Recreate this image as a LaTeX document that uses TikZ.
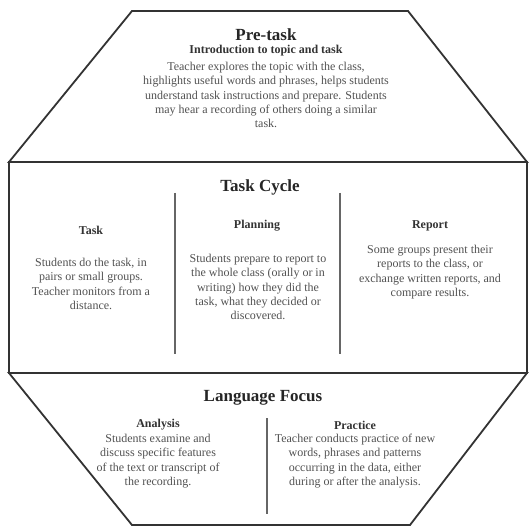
\documentclass[tikz,border=0pt]{standalone}
\usepackage{fontspec}
\setmainfont{Liberation Serif}
\begin{document}
\begin{tikzpicture}[x=1pt,y=-1pt,
  outline/.style={draw=black!80,line width=1.8pt,line join=miter},
  divider/.style={draw=black!60,line width=1.2pt},
  bigtitle/.style={font=\fontsize{17}{19}\selectfont\bfseries,text=black!85,inner sep=0pt},
  subtitle/.style={font=\fontsize{12}{14}\selectfont\bfseries,text=black!80,inner sep=0pt},
  bodytext/.style={font=\fontsize{12}{14.3}\selectfont,text=black!68,align=center,inner sep=0pt}]
\useasboundingbox (0,0) rectangle (528,529);
\fill[white] (0,0) rectangle (528,529);
% shapes
\draw[outline] (132,11) -- (408,11) -- (527,162) -- (9,162) -- cycle;
\draw[outline] (9,162) rectangle (527,373);
\draw[outline] (9,373) -- (527,373) -- (410,525) -- (132,525) -- cycle;
% dividers
\coordinate (d1a) at (175,193); \coordinate (d1b) at (175,354);
\coordinate (d2a) at (340,193); \coordinate (d2b) at (340,354);
\coordinate (d3a) at (267,418); \coordinate (d3b) at (267,514);
\draw[divider] (d1a) -- (d1b);
\draw[divider] (d2a) -- (d2b);
\draw[divider] (d3a) -- (d3b);
% pre-task
\node[bigtitle] (pretitle) at (266,35) {Pre-task};
\node[subtitle] (preintro) at (266,51) {Introduction to topic and task};
\node[bodytext] (prebody) at (266,95) {Teacher explores the topic with the class,\\highlights useful words and phrases, helps students\\understand task instructions and prepare. Students\\may hear a recording of others doing a similar\\task.};
% task cycle
\node[bigtitle] (cycle) at (260,187) {Task Cycle};
\node[subtitle] (task) at (91,230) {Task};
\node[subtitle] (planning) at (257,226) {Planning};
\node[subtitle] (report) at (430,226) {Report};
\node[bodytext] (taskbody) at (91,284) {Students do the task, in\\pairs or small groups.\\Teacher monitors from a\\distance.};
\node[bodytext] (planbody) at (258,287) {Students prepare to report to\\the whole class (orally or in\\writing) how they did the\\task, what they decided or\\discovered.};
\node[bodytext] (reportbody) at (430,272) {Some groups present their\\reports to the class, or\\exchange written reports, and\\compare results.};
% language focus
\node[bigtitle] (focus) at (263,398) {Language Focus};
\node[subtitle] (analysis) at (158,425) {Analysis};
\node[subtitle] (practice) at (355,425) {Practice};
\node[bodytext] (anbody) at (158,461) {Students examine and\\discuss specific features\\of the text or transcript of\\the recording.};
\node[bodytext] (prbody) at (355,461) {Teacher conducts practice of new\\words, phrases and patterns\\occurring in the data, either\\during or after the analysis.};
\end{tikzpicture}
\end{document}
